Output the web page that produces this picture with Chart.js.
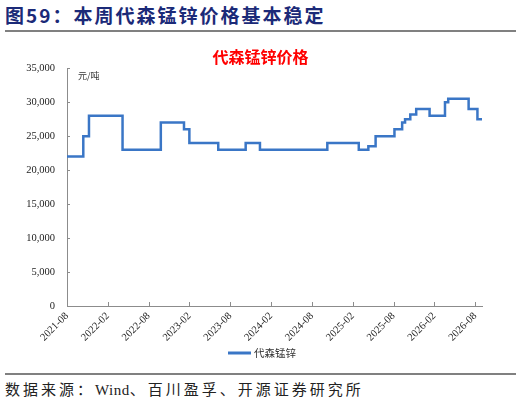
<!DOCTYPE html>
<html>
<head>
<meta charset="utf-8">
<script src="https://cdn.jsdelivr.net/npm/chart.js@4.4.1/dist/chart.umd.min.js"></script>
<style>
  html, body { margin: 0; padding: 0; background: #fff; }
  body { width: 521px; height: 406px; position: relative; overflow: hidden; }
  #titulo {
    position: absolute; left: 5px; top: 1px;
    font-family: "Noto Sans CJK SC", sans-serif; font-weight: bold;
    font-size: 19px; color: #1b2a78; letter-spacing: 2px; white-space: nowrap;
  }
  .linha { position: absolute; left: 5px; width: 511px; height: 2px; background: #808080; }
  #fonte {
    position: absolute; left: 5px; top: 378px;
    font-family: "Noto Sans CJK SC", sans-serif; font-size: 15px; color: #222;
    white-space: nowrap; letter-spacing: 3px;
  }
  #wrap { position: absolute; left: 0; top: 40px; width: 521px; height: 330px; }
</style>
</head>
<body>
<div id="titulo">图59：本周代森锰锌价格基本稳定</div>
<div class="linha" style="top:30px"></div>
<div id="wrap"><canvas id="grafico"></canvas></div>
<div class="linha" style="top:373px"></div>
<div id="fonte">数据来源：<span style="font-family:'Liberation Serif',serif;letter-spacing:0.5px">Wind</span>、百川盈孚、开源证券研究所</div>

<script>
// datas em que o preço mudou e o preço a partir dela (元/吨)
const datas = [
  "2021-08-01", "2021-10-13", "2021-11-08", "2022-04-06", "2022-09-25",
  "2023-01-07", "2023-01-31", "2023-06-08", "2023-10-09", "2023-12-12",
  "2024-10-09", "2025-02-28", "2025-04-10", "2025-05-12", "2025-08-05",
  "2025-09-09", "2025-09-22", "2025-10-15", "2025-11-11", "2026-01-10",
  "2026-03-18", "2026-04-02", "2026-07-02", "2026-08-11", "2026-09-03"
];
const precos = [
  22000, 25000, 28000, 23000, 27000,
  26000, 24000, 23000, 24000, 23000,
  24000, 23000, 23500, 25000, 26000,
  27000, 27500, 28200, 29000, 28000,
  30000, 30500, 29000, 27500, 27500
];
const yTicks = [0, 5000, 10000, 15000, 20000, 25000, 30000, 35000];
const xTickLabels = ["2021-08", "2022-02", "2022-08", "2023-02", "2023-08", "2024-02",
  "2024-08", "2025-02", "2025-08", "2026-02", "2026-08"];

// meses desde 2021-08 (fracionário)
function meses(s) {
  const [a, m, d] = s.split("-").map(Number);
  return (a - 2021) * 12 + (m - 8) + (d - 1) / 30.4;
}

const azul = "#3a76c6";

// marcas dos eixos para dentro, unidade e legenda desenhada à mão
const extras = {
  id: "extras",
  afterDraw(chart) {
    const { ctx, chartArea, scales } = chart;
    ctx.save();
    ctx.strokeStyle = "#8c8c8c";
    ctx.lineWidth = 1;
    ctx.beginPath();
    scales.y.ticks.forEach((t) => {
      const y = Math.round(scales.y.getPixelForValue(t.value)) + 0.5;
      ctx.moveTo(chartArea.left, y);
      ctx.lineTo(chartArea.left + 3, y);
    });
    scales.x.ticks.forEach((t) => {
      const x = Math.round(scales.x.getPixelForValue(t.value)) + 0.5;
      ctx.moveTo(x, chartArea.bottom);
      ctx.lineTo(x, chartArea.bottom - 4);
    });
    ctx.stroke();

    ctx.fillStyle = "#333";
    ctx.font = "9px 'Noto Sans CJK SC', sans-serif";
    ctx.textBaseline = "middle";
    ctx.fillText("元/吨", chartArea.left + 11, chartArea.top + 7);

    // legenda
    const ds = chart.data.datasets[0];
    const ly = 313;
    ctx.strokeStyle = ds.borderColor;
    ctx.lineWidth = 3;
    ctx.beginPath();
    ctx.moveTo(228, ly);
    ctx.lineTo(251, ly);
    ctx.stroke();
    ctx.fillStyle = "#333";
    ctx.font = "10.5px 'Noto Sans CJK SC', sans-serif";
    ctx.fillText(ds.label, 254, ly);
    ctx.restore();
  }
};

const ctx = document.getElementById("grafico").getContext("2d");
new Chart(ctx, {
  type: "line",
  data: {
    datasets: [{
      label: "代森锰锌",
      data: datas.map((d, i) => ({ x: meses(d), y: precos[i] })),
      borderColor: azul,
      backgroundColor: azul,
      borderWidth: 2.5,
      stepped: "before",
      pointRadius: 0,
      fill: false,
    }],
  },
  options: {
    responsive: true,
    maintainAspectRatio: false,
    animation: false,
    layout: { padding: 0 },
    plugins: {
      title: {
        display: true,
        text: "代森锰锌价格",
        color: "#ff0000",
        font: { family: "'Noto Sans CJK SC', sans-serif", size: 16, weight: "bold" },
        padding: { top: 7, bottom: 2 },
      },
      legend: { display: false },
      tooltip: { enabled: false },
    },
    scales: {
      x: {
        type: "linear",
        min: 0,
        max: 61,
        afterBuildTicks: (s) => {
          s.ticks = xTickLabels.map((_, i) => ({ value: i * 6 }));
        },
        afterFit: (s) => { s.height = 64; },
        ticks: {
          callback: (v) => xTickLabels[Math.round(v / 6)],
          minRotation: 45,
          maxRotation: 45,
          padding: 4,
          color: "#222",
          font: { family: "'Liberation Serif', serif", size: 10.5 },
        },
        grid: { drawOnChartArea: false, drawTicks: false },
        border: { color: "#8c8c8c" },
      },
      y: {
        min: 0,
        max: 35000,
        afterBuildTicks: (s) => { s.ticks = yTicks.map((v) => ({ value: v })); },
        afterFit: (s) => { s.width = 67; },
        ticks: {
          callback: (v) => v.toLocaleString("en-US"),
          padding: 12,
          color: "#222",
          font: { family: "'Liberation Serif', serif", size: 10.5 },
        },
        grid: { drawOnChartArea: false, drawTicks: false },
        border: { color: "#8c8c8c" },
      },
      // eixo vazio à direita só para reservar a margem
      y2: {
        position: "right",
        afterFit: (s) => { s.width = 39; },
        ticks: { display: false },
        grid: { display: false },
        border: { display: false },
      },
    },
  },
  plugins: [extras],
});
</script>
</body>
</html>
